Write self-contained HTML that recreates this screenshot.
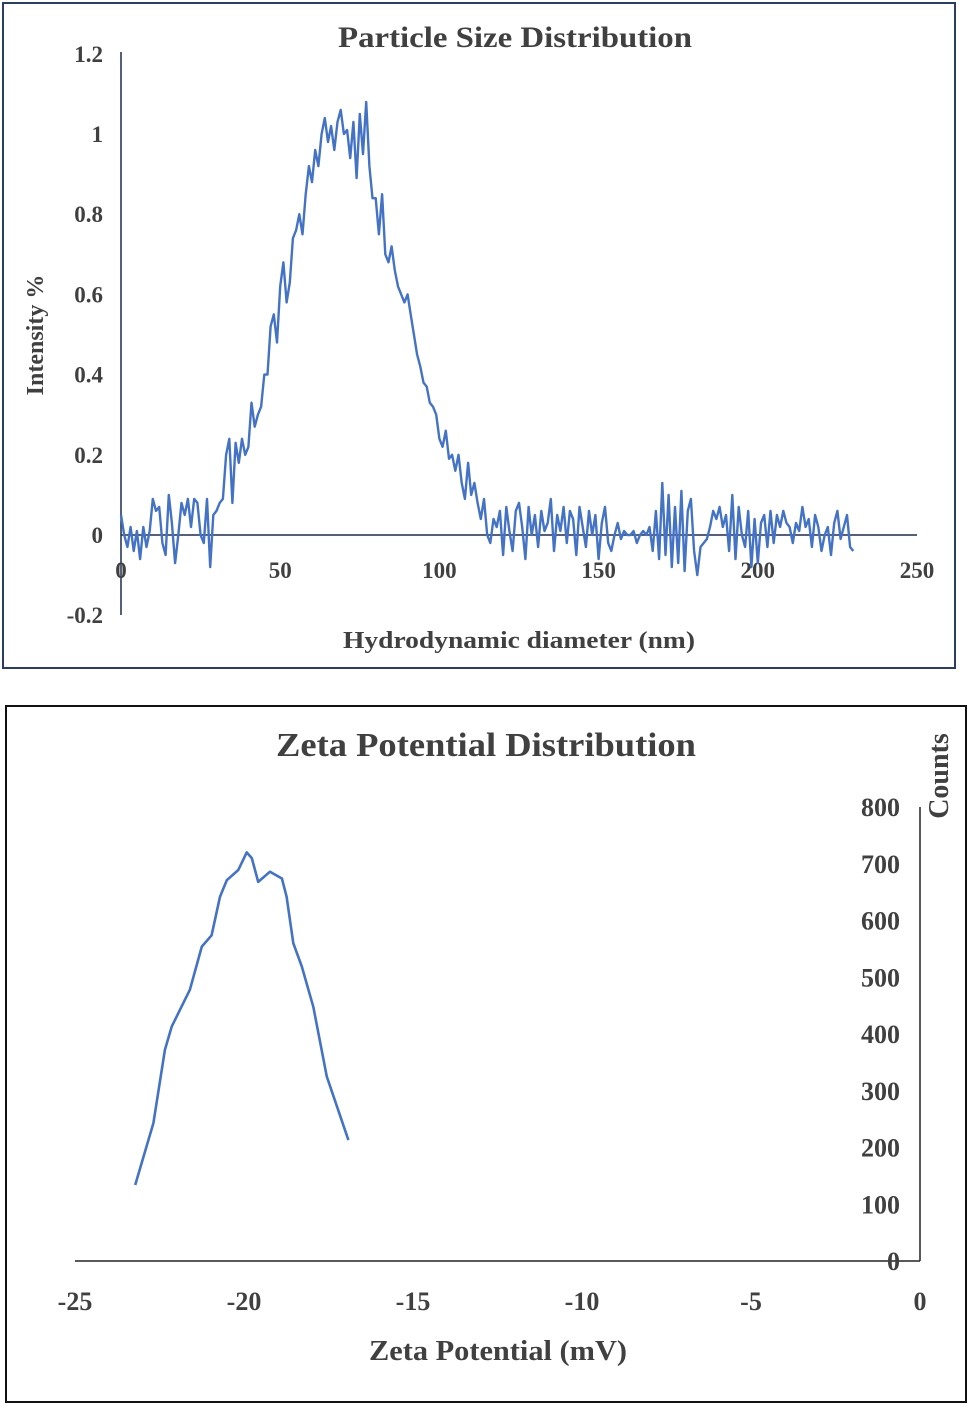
<!DOCTYPE html>
<html><head><meta charset="utf-8"><style>
body{margin:0;background:#fff;width:968px;height:1404px;overflow:hidden}
svg text{font-family:"Liberation Serif",serif;font-weight:bold;fill:#404040}
</style></head><body>
<svg width="968" height="1404">
<g id="top"></g>
<g id="bot"></g>
</svg>
<script>
const psdY=[0.05,0.0,-0.03,0.02,-0.04,0.01,-0.06,0.02,-0.03,0.01,
0.09,0.06,0.07,-0.02,-0.05,0.1,0.03,-0.07,0.0,0.08,
0.05,0.09,0.02,0.09,0.08,0.0,-0.02,0.09,-0.08,0.05,
0.06,0.08,0.09,0.2,0.24,0.08,0.23,0.18,0.24,0.2,
0.22,0.33,0.27,0.3,0.32,0.4,0.4,0.52,0.55,0.48,
0.62,0.68,0.58,0.63,0.74,0.76,0.8,0.75,0.85,0.92,
0.88,0.96,0.92,1.0,1.04,0.98,1.02,0.96,1.03,1.06,
1.0,1.01,0.94,1.03,0.89,1.05,0.95,1.08,0.92,0.84,
0.84,0.75,0.85,0.7,0.68,0.72,0.66,0.62,0.6,0.58,
0.6,0.55,0.5,0.45,0.42,0.38,0.37,0.33,0.32,0.3,
0.24,0.22,0.26,0.19,0.2,0.16,0.2,0.13,0.09,0.18,
0.1,0.13,0.08,0.04,0.09,0.0,-0.02,0.04,0.02,0.06,
-0.05,0.07,0.01,-0.04,0.06,
0.08,0.02,-0.06,0.07,0.0,0.05,-0.03,0.06,0.01,0.03,
0.09,-0.04,0.05,0.01,0.07,-0.02,0.06,0.04,-0.05,0.07,
0.02,-0.03,0.06,0.0,0.05,-0.06,0.03,0.07,-0.02,-0.04,
0.0,0.03,-0.01,0.01,0.0,0.0,0.01,-0.02,0.0,0.01,
0.0,0.02,-0.04,0.06,-0.06,0.13,-0.05,0.1,-0.08,0.07,
-0.07,0.11,-0.09,0.06,0.09,-0.04,-0.1,-0.03,-0.02,-0.01,
0.02,0.06,0.04,0.07,0.02,0.05,-0.04,0.1,-0.06,0.07,
0.0,-0.03,0.06,-0.08,0.04,-0.07,0.03,0.05,-0.03,0.06,
-0.02,0.05,0.02,0.06,0.03,0.02,-0.02,0.03,0.01,0.07,
0.02,0.04,-0.03,0.05,0.02,-0.04,0.0,0.02,-0.05,0.03,
0.06,-0.01,0.02,0.05,-0.03,-0.04];
const psdXTicks=[0,50,100,150,200,250];
const psdYTicks=[-0.2,0,0.2,0.4,0.6,0.8,1,1.2];
const zetaX=[-23.22,-22.68,-22.34,-22.14,-21.6,-21.25,-20.96,-20.71,-20.51,-20.17,-19.92,-19.77,-19.58,-19.23,-18.88,-18.74,-18.54,-18.29,-17.95,-17.55,-16.91];
const zetaY=[134,243,372,413,478,554,574,642,671,689,720,710,668,686,674,642,560,519,448,325,213];
const zetaXTicks=[-25,-20,-15,-10,-5,0];
const zetaYTicks=[0,100,200,300,400,500,600,700,800];
const NS="http://www.w3.org/2000/svg";
function mk(p,t,a){const e=document.createElementNS(NS,t);for(const k in a)e.setAttribute(k,a[k]);p.appendChild(e);return e;}
// top
const T=document.getElementById('top');
const tx=v=>121+v*(917-121)/250, ty=v=>535-v*(535-134);
let r=mk(T,'rect',{x:3,y:3,width:952,height:665,fill:'none',stroke:'#2c3e60','stroke-width':2});

let t=mk(T,'text',{x:338,y:47,'font-size':30,textLength:354,lengthAdjust:'spacingAndGlyphs'});t.textContent='Particle Size Distribution';

let l=mk(T,'line',{x1:121,y1:52,x2:121,y2:615,stroke:'#1f2d4a','stroke-width':1.5});

l=mk(T,'line',{x1:121,y1:ty(0),x2:917,y2:ty(0),stroke:'#1f2d4a','stroke-width':1.5});

psdYTicks.forEach(v=>{const e=mk(T,'text',{x:103,y:ty(v)+8,'text-anchor':'end','font-size':23});e.textContent=String(v);
});
psdXTicks.forEach(v=>{const e=mk(T,'text',{x:tx(v),y:578,'text-anchor':'middle','font-size':23});e.textContent=String(v);
});
t=mk(T,'text',{x:343,y:648,'font-size':24,textLength:352,lengthAdjust:'spacingAndGlyphs'});t.textContent='Hydrodynamic diameter (nm)';

t=mk(T,'text',{x:0,y:0,'text-anchor':'middle','font-size':24,transform:'translate(43,335) rotate(-90)'});t.textContent='Intensity %';

let p=mk(T,'path',{d:psdY.map((v,i)=>(i?'L':'M')+tx(i).toFixed(1)+','+ty(v).toFixed(1)).join(''),fill:'none',stroke:'#4472c4','stroke-width':2.4,'stroke-linejoin':'round'});

// bottom
const B=document.getElementById('bot');
const bx=v=>920+v*(920-75)/25, by=v=>1261-v*(1261-807)/800;
r=mk(B,'rect',{x:6,y:706,width:960,height:696,fill:'none',stroke:'#111','stroke-width':2});

t=mk(B,'text',{x:276,y:756,'font-size':34,textLength:420,lengthAdjust:'spacingAndGlyphs'});t.textContent='Zeta Potential Distribution';

l=mk(B,'line',{x1:75,y1:1261,x2:920,y2:1261,stroke:'#222','stroke-width':1.5});

l=mk(B,'line',{x1:920,y1:by(800),x2:920,y2:1261,stroke:'#222','stroke-width':1.5});

zetaYTicks.forEach(v=>{const e=mk(B,'text',{x:900,y:by(v)+9,'text-anchor':'end','font-size':26});e.textContent=String(v);
});
zetaXTicks.forEach(v=>{const e=mk(B,'text',{x:bx(v),y:1310,'text-anchor':'middle','font-size':26});e.textContent=String(v);
});
t=mk(B,'text',{x:369,y:1360,'font-size':28,textLength:258,lengthAdjust:'spacingAndGlyphs'});t.textContent='Zeta Potential (mV)';

t=mk(B,'text',{x:0,y:0,'text-anchor':'middle','font-size':28,transform:'translate(948,776) rotate(-90)'});t.textContent='Counts';

p=mk(B,'path',{d:zetaX.map((v,i)=>(i?'L':'M')+bx(v).toFixed(1)+','+by(zetaY[i]).toFixed(1)).join(''),fill:'none',stroke:'#4472c4','stroke-width':2.6,'stroke-linejoin':'round'});

</script>
</body></html>
